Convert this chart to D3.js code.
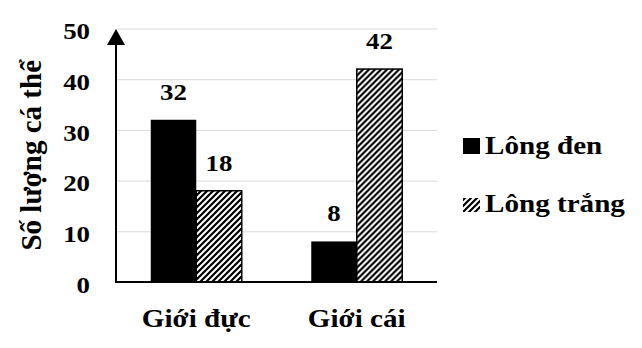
<!DOCTYPE html>
<html>
<head>
<meta charset="utf-8">
<script src="https://cdn.jsdelivr.net/npm/d3@7"></script>
<style>
  body { margin: 0; background: #fff; }
  svg text { font-family: "Liberation Serif", Tinos, "Times New Roman", "DejaVu Serif", serif; font-weight: bold; fill: #000; }
</style>
</head>
<body>
<svg id="chart" width="642" height="348"></svg>
<script>
// data
var groups = ["Giới đực", "Giới cái"];
var series = ["Lông đen", "Lông trắng"];
var blackValues = [32, 8];
var whiteValues = [18, 42];
var yTicks = [0, 10, 20, 30, 40, 50];
var yTitle = "Số lượng cá thể";

var svg = d3.select("#chart");
var stretch = 1.12; // reference text looks a bit wide
var serif = "'Liberation Serif', Tinos, 'Times New Roman', 'DejaVu Serif', serif";

// note: "top" is taken by window.top, so prefix these
var plotLeft = 116, plotRight = 437, plotTop = 28.5, plotBottom = 282;

var x0 = d3.scaleBand().domain(groups).range([plotLeft, plotRight]).padding(0);
var x1 = d3.scaleBand().domain(series).range([0, x0.bandwidth()])
    .paddingInner(0).paddingOuter(0.764);
var y = d3.scaleLinear().domain([0, 50]).range([plotBottom, plotTop]);

var defs = svg.append("defs");
var pat = defs.append("pattern")
    .attr("id", "hatch")
    .attr("patternUnits", "userSpaceOnUse")
    .attr("width", 6).attr("height", 6);
pat.append("rect").attr("width", 6).attr("height", 6).attr("fill", "#fff");
pat.append("path")
    .attr("d", "M0,6 L6,0 M-1.5,1.5 L1.5,-1.5 M4.5,7.5 L7.5,4.5")
    .attr("stroke", "#000").attr("stroke-width", 2.2);

// gridlines
var grid = svg.append("g")
    .attr("transform", "translate(" + plotLeft + ",0)")
    .call(d3.axisRight(y).tickValues(yTicks).tickSize(plotRight - plotLeft).tickFormat(""));
grid.select(".domain").remove();
grid.selectAll("line").attr("stroke", "#d9d9d9").attr("stroke-width", 1);

// tick labels
var yAxis = svg.append("g")
    .attr("transform", "translate(" + plotLeft + ",0)")
    .call(d3.axisLeft(y).tickValues(yTicks).tickSize(0));
yAxis.select(".domain").remove();
yAxis.attr("font-family", null).attr("font-size", null);
yAxis.selectAll("text")
    .attr("x", -26 / stretch)
    .attr("dy", "0.43em")
    .attr("transform", "scale(" + stretch + ",1)")
    .style("font-size", "24px")
    .style("font-family", serif)
    .style("font-weight", "bold")
    .attr("fill", "#000");

// bars
var rows = groups.map(function(g, i) {
  return [
    { group: g, key: series[0], value: blackValues[i] },
    { group: g, key: series[1], value: whiteValues[i] }
  ];
});

var gGroups = svg.selectAll(".grp")
  .data(rows)
  .enter().append("g")
    .attr("class", "grp")
    .attr("transform", function(d) { return "translate(" + x0(d[0].group) + ",0)"; });

gGroups.selectAll("rect")
  .data(function(d) { return d; })
  .enter().append("rect")
    .attr("x", function(d) { return x1(d.key); })
    .attr("y", function(d) { return y(d.value); })
    .attr("width", x1.bandwidth())
    .attr("height", function(d) { return y(0) - y(d.value); })
    .attr("fill", function(d) { return d.key === series[0] ? "#000" : "url(#hatch)"; })
    .attr("stroke", "#000")
    .attr("stroke-width", function(d) { return d.key === series[0] ? 0 : 1.5; });

gGroups.selectAll(".val")
  .data(function(d) { return d; })
  .enter().append("text")
    .attr("class", "val")
    .attr("text-anchor", "middle")
    .attr("transform", function(d) {
      return "translate(" + (x1(d.key) + x1.bandwidth() / 2) + "," + (y(d.value) - 20) + ") scale(" + stretch + ",1)";
    })
    .style("font-size", "24px")
    .style("font-family", serif)
    .text(function(d) { return d.value; });

// axes lines
svg.append("line")
    .attr("x1", plotLeft - 1).attr("x2", plotRight)
    .attr("y1", plotBottom).attr("y2", plotBottom)
    .attr("stroke", "#000").attr("stroke-width", 2);
svg.append("line")
    .attr("x1", plotLeft).attr("x2", plotLeft)
    .attr("y1", plotBottom + 1).attr("y2", y(50) + 14)
    .attr("stroke", "#000").attr("stroke-width", 2);
svg.append("path")
    .attr("d", "M" + plotLeft + "," + (y(50) + 0.5) + " L" + (plotLeft + 9) + "," + (y(50) + 16.5) +
               " L" + (plotLeft - 9) + "," + (y(50) + 16.5) + " Z")
    .attr("fill", "#000");

// category labels
svg.selectAll(".cat")
  .data(groups)
  .enter().append("text")
    .attr("class", "cat")
    .attr("text-anchor", "middle")
    .attr("transform", function(d) {
      return "translate(" + (x0(d) + x0.bandwidth() / 2) + ",327) scale(" + stretch + ",1)";
    })
    .style("font-size", "26px")
    .style("font-family", serif)
    .text(function(d) { return d; });

// y title
svg.append("text")
    .attr("text-anchor", "middle")
    .attr("transform", "translate(41," + ((plotTop + plotBottom) / 2) + ") rotate(-90)")
    .style("font-size", "29px")
    .style("font-family", serif)
    .text(yTitle);

// legend
var legend = svg.selectAll(".leg")
  .data(series)
  .enter().append("g")
    .attr("class", "leg")
    .attr("transform", function(d, i) { return "translate(463," + (154 + i * 58) + ")"; });

legend.append("rect")
    .attr("x", 0).attr("y", function(d, i) { return i === 0 ? -16 : -14; })
    .attr("width", 17).attr("height", function(d, i) { return i === 0 ? 16 : 14; })
    .attr("fill", function(d, i) { return i === 0 ? "#000" : "url(#hatch)"; });

legend.append("text")
    .attr("transform", "translate(22,0) scale(" + stretch + ",1)")
    .style("font-size", "26px")
    .style("font-family", serif)
    .text(function(d) { return d; });
</script>
</body>
</html>
